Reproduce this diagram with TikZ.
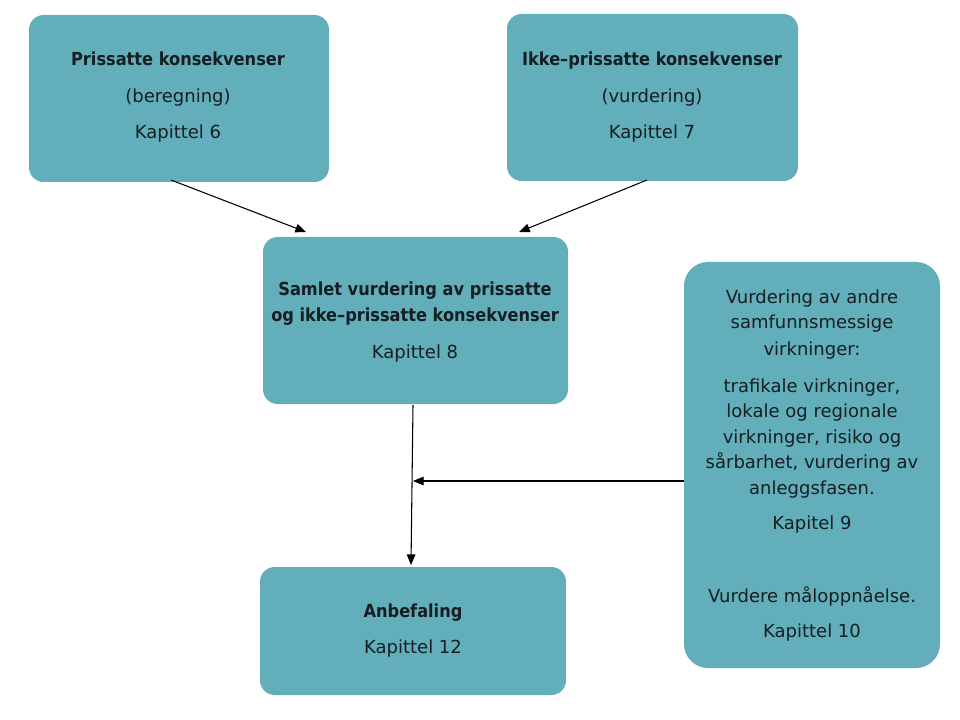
\documentclass[tikz,border=0pt]{standalone}
\usepackage{fontspec}
\setmainfont{DejaVu Sans}
\newfontfamily\condf{DejaVu Sans Condensed}
\usetikzlibrary{arrows.meta}
\definecolor{boxfill}{RGB}{98,175,187}
\definecolor{txt}{RGB}{22,30,34}
\tikzset{
  box/.style={fill=boxfill, draw=none, rounded corners=11pt, inner sep=0pt},
  ln/.style={anchor=base, inner sep=0pt, text=txt, font=\fontsize{13.5}{16}\selectfont},
  bl/.style={ln, font=\fontsize{13.5}{16}\selectfont\condf\bfseries},
  conn/.style={draw=black, line width=0.8pt, -{Triangle[length=8pt,width=6.5pt]}}
}
\begin{document}
\begin{tikzpicture}[x=0.75pt,y=-0.75pt]
\useasboundingbox (0,0) rectangle (960,720);
% boxes
\node[box, minimum width=225pt, minimum height=125.25pt] (b1) at (179,98.5) {};
\node[box, minimum width=218.25pt, minimum height=125.25pt] (b2) at (652.5,97.5) {};
\node[box, minimum width=228.75pt, minimum height=125.25pt] (b3) at (415.5,320.5) {};
\node[box, rounded corners=18pt, minimum width=192pt, minimum height=304.5pt] (b4) at (812,465) {};
\node[box, minimum width=229.5pt, minimum height=96pt] (b5) at (413,631) {};
% box 1
\node[bl] (t11) at (178,66) {Prissatte konsekvenser};
\node[ln] (t12) at (178,103) {(beregning)};
\node[ln] (t13) at (178,138.5) {Kapittel 6};
% box 2
\node[bl] (t21) at (652,66) {Ikke–prissatte konsekvenser};
\node[ln] (t22) at (652,103) {(vurdering)};
\node[ln] (t23) at (652,138.5) {Kapittel 7};
% box 3
\node[bl] (t31) at (415,296) {Samlet vurdering av prissatte};
\node[bl] (t32) at (415,321.5) {og ikke–prissatte konsekvenser};
\node[ln] (t33) at (415,358) {Kapittel 8};
% box 4
\node[ln] (t41) at (812,303) {Vurdering av andre};
\node[ln] (t42) at (812,329) {samfunnsmessige};
\node[ln] (t43) at (812,355) {virkninger:};
\node[ln] (t44) at (812,392) {trafikale virkninger,};
\node[ln] (t45) at (812,417.5) {lokale og regionale};
\node[ln] (t46) at (812,443) {virkninger, risiko og};
\node[ln] (t47) at (812,468.5) {sårbarhet, vurdering av};
\node[ln] (t48) at (812,494) {anleggsfasen.};
\node[ln] (t49) at (812,529.5) {Kapitel 9};
\node[ln] (t410) at (812,602.5) {Vurdere måloppnåelse.};
\node[ln] (t411) at (812,637.5) {Kapittel 10};
% box 5
\node[bl] (t51) at (413,617) {Anbefaling};
\node[ln] (t52) at (413,653) {Kapittel 12};
% connector ends
\coordinate (a1s) at (171,180);
\coordinate (a1e) at (306,232);
\coordinate (a2s) at (647,180);
\coordinate (a2e) at (519,232);
\coordinate (a3s) at (413,405);
\coordinate (a3e) at (411,565);
\coordinate (a4e) at (413,481);
\draw[conn] (a1s) -- (a1e);
\draw[conn] (a2s) -- (a2e);
\draw[conn] (a3s) -- (a3e);
\draw[conn] (b4.west |- a4e) -- (a4e);
\end{tikzpicture}
\end{document}
